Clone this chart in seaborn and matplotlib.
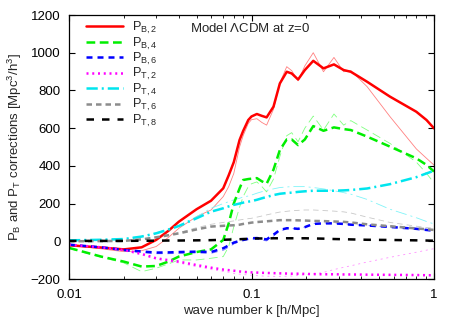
import numpy as np
import pandas as pd
import matplotlib
matplotlib.use("Agg")
import matplotlib.pyplot as plt
import seaborn as sns

# ---------------- data ----------------
k = [0.01, 0.015, 0.02, 0.025, 0.03, 0.035, 0.04, 0.05, 0.06, 0.07, 0.075, 0.08,
     0.086, 0.09, 0.096, 0.1, 0.107, 0.114, 0.121, 0.132, 0.143, 0.156, 0.166,
     0.18, 0.196, 0.218, 0.248, 0.283, 0.32, 0.35, 0.43, 0.574, 0.8, 0.91, 1.0]

pb2 = [-21, -33, -43, -32, 7, 55, 104, 170, 215, 281, 350, 420,
       537, 585, 643, 662, 675, 665, 657, 714, 837, 899, 890,
       858, 908, 957, 917, 938, 908, 899, 846, 767, 687, 643, 599]
pb2_thin = [-21, -40, -55, -50, -28, 20, 69, 131, 166, 237, 290, 360,
            500, 560, 625, 645, 650, 630, 616, 700, 840, 926, 905,
            851, 930, 1000, 899, 975, 899, 905, 820, 661, 490, 440, 404]

pb4 = [-35, -81, -108, -134, -131, -108, -81, -57, -43, 7, 95, 201,
       280, 325, 330, 332, 335, 318, 305, 380, 484, 540, 540,
       510, 540, 611, 586, 604, 595, 590, 555, 502, 440, 405, 370]
pb4_thin = [-38, -85, -115, -161, -143, -120, -99, -99, -90, -81, -28, 78,
            180, 237, 290, 305, 315, 290, 262, 330, 450, 560, 576,
            528, 600, 664, 590, 675, 616, 640, 590, 519, 420, 360, 310]

pb6 = [-18, -32, -46, -54, -60, -59, -57, -55, -57, -37, -22, -7,
       2, 7, 13, 16, 17, 14, 10, 35, 60, 69, 69,
       66, 75, 92, 95, 95, 92, 88, 84, 76, 66, 60, 56]
pb6_thin = [-18, -34, -50, -60, -66, -66, -64, -62, -64, -48, -32, -14,
            -2, 4, 10, 13, 12, 6, 2, 28, 55, 66, 68,
            66, 76, 94, 97, 97, 93, 89, 84, 75, 65, 60, 56]

pt2 = [-18, -32, -46, -67, -90, -100, -108, -126, -140, -150, -153, -156,
       -160, -162, -164, -165, -166, -167, -168, -169, -170, -171, -172,
       -172, -173, -174, -175, -175, -176, -176, -177, -178, -179, -180, -180]
pt2_thin = [-20, -35, -50, -72, -95, -106, -115, -135, -150, -160, -164, -170,
            -174, -176, -179, -180, -182, -184, -185, -186, -186, -185, -184,
            -181, -178, -173, -165, -150, -138, -130, -110, -85, -58, -47, -39]

pt4 = [5, 8, 12, 25, 42, 62, 81, 122, 157, 175, 185, 193,
       200, 205, 210, 213, 220, 228, 235, 245, 252, 256, 258,
       262, 265, 268, 268, 268, 270, 272, 280, 303, 340, 360, 374]
pt4_thin = [5, 8, 12, 27, 45, 65, 85, 130, 175, 200, 210, 220,
            228, 235, 240, 245, 255, 263, 270, 278, 285, 288, 290,
            290, 290, 285, 278, 268, 258, 250, 222, 170, 125, 105, 92]

pt6 = [0, 1, 2, 10, 21, 32, 42, 63, 78, 82, 84, 85,
       88, 92, 96, 99, 102, 104, 106, 109, 112, 112, 112,
       111, 110, 108, 107, 105, 103, 100, 90, 80, 68, 64, 60]
pt6_thin = [0, 1, 2, 12, 23, 35, 46, 72, 90, 100, 104, 108,
            113, 116, 120, 122, 128, 134, 140, 148, 155, 159, 162,
            164, 166, 166, 163, 160, 156, 150, 128, 100, 80, 73, 69]

pt8 = [2, 2, 2, 3, 3, 4, 4, 5, 6, 8, 9, 10,
       11, 12, 13, 14, 15, 15, 15, 16, 16, 16, 16,
       16, 16, 15, 14, 12, 11, 10, 8, 7, 5, 4, 3]

labels = [r"P$_{\mathrm{B,2}}$", r"P$_{\mathrm{B,4}}$", r"P$_{\mathrm{B,6}}$",
          r"P$_{\mathrm{T,2}}$", r"P$_{\mathrm{T,4}}$", r"P$_{\mathrm{T,6}}$",
          r"P$_{\mathrm{T,8}}$"]
x_ticks = [0.01, 0.1, 1]
x_tick_labels = ["0.01", "0.1", "1"]
y_ticks = [-200, 0, 200, 400, 600, 800, 1000, 1200]

# ---------------- style ----------------
sns.set_style("ticks")
plt.rcParams["font.family"] = ["Liberation Sans", "DejaVu Sans"]
plt.rcParams["mathtext.fontset"] = "custom"
plt.rcParams["mathtext.rm"] = "Liberation Sans"
plt.rcParams["mathtext.it"] = "Liberation Sans:italic"
plt.rcParams["mathtext.bf"] = "Liberation Sans:bold"

fig = plt.figure(figsize=(4.57, 3.20), dpi=100)
ax = fig.add_axes([69 / 457, 1 - 279 / 320, (434 - 69) / 457, (279 - 15) / 320])

LW = 1.8
TW = 0.6
sc = LW / TW

series = [
    (pb2, pb2_thin, "#ff0000", "#ff8080", None),
    (pb4, pb4_thin, "#00ee00", "#80ff80", (3.5, 1.8)),
    (pb6, pb6_thin, "#0000ff", "#8080ff", (2.4, 2.0)),
    (pt2, pt2_thin, "#ff00ff", "#ff90ff", (0.8, 1.5)),
    (pt4, pt4_thin, "#00e5ee", "#80f4f8", (4.5, 1.6, 0.8, 1.6)),
    (pt6, pt6_thin, "#8c8c8c", "#c8c8c8", (2.2, 1.6)),
    (pt8, None, "#000000", "#808080", (3.0, 3.2)),
]

# thin curves first (drawn underneath)
for thick, thin, c, cl, dash in series:
    if thin is None:
        continue
    ls = "-" if dash is None else (0, tuple(d * sc for d in dash))
    sns.lineplot(x=k, y=thin, ax=ax, color=cl, lw=TW, linestyle=ls,
                 estimator=None, sort=False, label="_nolegend_")

for (thick, thin, c, cl, dash), lab in zip(series, labels):
    ls = "-" if dash is None else (0, dash)
    sns.lineplot(x=k, y=thick, ax=ax, color=c, lw=LW, linestyle=ls,
                 estimator=None, sort=False, label=lab)

ax.set_xscale("log")
ax.set_xlim(0.01, 1)
ax.set_ylim(-200, 1200)
ax.set_xticks(x_ticks)
ax.set_xticklabels(x_tick_labels)
ax.set_yticks(y_ticks)

ax.tick_params(which="both", direction="in", top=True, right=True,
               labelsize=9.5, colors="black")
ax.tick_params(which="major", length=4.5, width=0.8, pad=6)
ax.tick_params(which="minor", length=2.5, width=0.6)
ax.tick_params(axis="x", which="major", pad=7)
for s in ax.spines.values():
    s.set_linewidth(0.9)
    s.set_color("black")

ax.set_xlabel("wave number k [h/Mpc]", fontsize=9.5, labelpad=3)
ax.set_ylabel(r"P$_{\mathrm{B}}$ and P$_{\mathrm{T}}$ corrections [Mpc$^{3}$/h$^{3}$]",
              fontsize=9.5, labelpad=5)

ax.text((190 - 69) / 365, (279 - 29) / 264, r"Model $\Lambda$CDM at z=0",
        transform=ax.transAxes, fontsize=9.5, ha="left", va="center")

leg = ax.legend(loc="upper left", bbox_to_anchor=(0.025, 1.01), frameon=False,
                fontsize=9.2, handlelength=2.9, handletextpad=0.7,
                labelspacing=-0.05, borderaxespad=0.2)

fig.savefig("out.png", dpi=100)
